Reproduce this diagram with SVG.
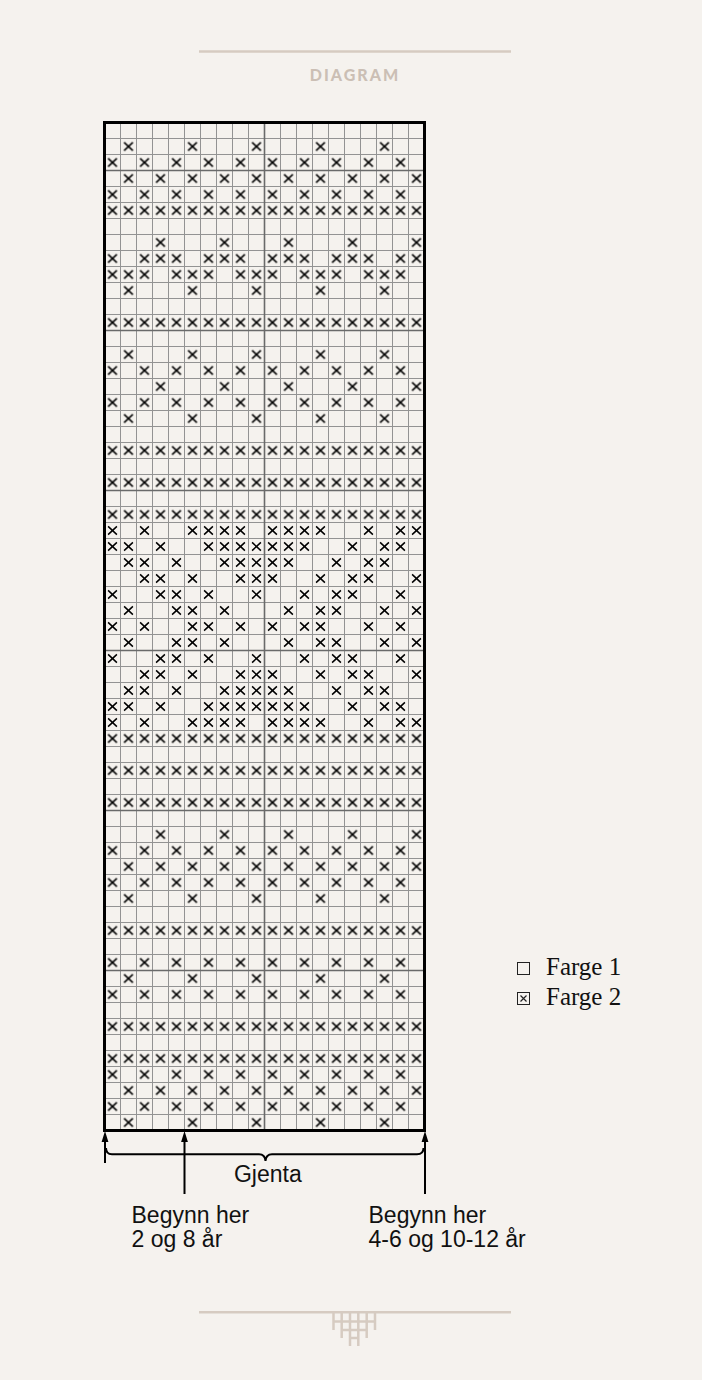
<svg xmlns="http://www.w3.org/2000/svg" xmlns:xlink="http://www.w3.org/1999/xlink" width="702" height="1380" viewBox="0 0 702 1380">
<style>
.grid{fill:none;stroke:#939393;stroke-width:1}
.sep{fill:none;stroke:#6a6a6a;stroke-width:1.6}
.border{fill:none;stroke:#000;stroke-width:3}
.xm{fill:none;stroke:#000;stroke-width:1.5}
.deco{fill:none;stroke:#d6cbc1;stroke-width:2.5}
.lbl{font-family:"Liberation Sans",Arial,sans-serif;font-size:23px;fill:#111}
.leg{font-family:"Liberation Serif","Times New Roman",serif;font-size:25px;fill:#111}
.arr{fill:none;stroke:#000;stroke-width:2}
.head{fill:#000}
</style>
<defs>
<path id="x" class="xm" d="M-4.4,-4.1L4.4,4.1M4.4,-4.1L-4.4,4.1"/>
<pattern id="pAll" patternUnits="userSpaceOnUse" x="104.5" y="122.5" width="16" height="16"><use href="#x" x="8" y="8"/></pattern>
<pattern id="pEven" patternUnits="userSpaceOnUse" x="104.5" y="122.5" width="32" height="16"><use href="#x" x="8" y="8"/></pattern>
<pattern id="pOdd" patternUnits="userSpaceOnUse" x="104.5" y="122.5" width="32" height="16"><use href="#x" x="24" y="8"/></pattern>
<pattern id="p1" patternUnits="userSpaceOnUse" x="104.5" y="122.5" width="64" height="16"><use href="#x" x="24" y="8"/></pattern>
<pattern id="p3" patternUnits="userSpaceOnUse" x="104.5" y="122.5" width="64" height="16"><use href="#x" x="56" y="8"/></pattern>
<pattern id="pN1" patternUnits="userSpaceOnUse" x="104.5" y="122.5" width="64" height="16"><use href="#x" x="8" y="8"/><use href="#x" x="40" y="8"/><use href="#x" x="56" y="8"/></pattern>
<pattern id="pN3" patternUnits="userSpaceOnUse" x="104.5" y="122.5" width="64" height="16"><use href="#x" x="8" y="8"/><use href="#x" x="24" y="8"/><use href="#x" x="40" y="8"/></pattern>
<g id="rA"><use href="#x" x="112.5"/><use href="#x" x="144.5"/><use href="#x" x="192.5"/><use href="#x" x="208.5"/><use href="#x" x="224.5"/><use href="#x" x="240.5"/><use href="#x" x="272.5"/><use href="#x" x="288.5"/><use href="#x" x="304.5"/><use href="#x" x="320.5"/><use href="#x" x="368.5"/><use href="#x" x="400.5"/><use href="#x" x="416.5"/></g>
<g id="rB"><use href="#x" x="112.5"/><use href="#x" x="128.5"/><use href="#x" x="160.5"/><use href="#x" x="208.5"/><use href="#x" x="224.5"/><use href="#x" x="240.5"/><use href="#x" x="256.5"/><use href="#x" x="272.5"/><use href="#x" x="288.5"/><use href="#x" x="304.5"/><use href="#x" x="352.5"/><use href="#x" x="384.5"/><use href="#x" x="400.5"/></g>
<g id="rC"><use href="#x" x="128.5"/><use href="#x" x="144.5"/><use href="#x" x="176.5"/><use href="#x" x="224.5"/><use href="#x" x="240.5"/><use href="#x" x="256.5"/><use href="#x" x="272.5"/><use href="#x" x="288.5"/><use href="#x" x="336.5"/><use href="#x" x="368.5"/><use href="#x" x="384.5"/></g>
<g id="rD"><use href="#x" x="144.5"/><use href="#x" x="160.5"/><use href="#x" x="192.5"/><use href="#x" x="240.5"/><use href="#x" x="256.5"/><use href="#x" x="272.5"/><use href="#x" x="320.5"/><use href="#x" x="352.5"/><use href="#x" x="368.5"/><use href="#x" x="416.5"/></g>
<g id="rE"><use href="#x" x="112.5"/><use href="#x" x="160.5"/><use href="#x" x="176.5"/><use href="#x" x="208.5"/><use href="#x" x="256.5"/><use href="#x" x="304.5"/><use href="#x" x="336.5"/><use href="#x" x="352.5"/><use href="#x" x="400.5"/></g>
<g id="rF"><use href="#x" x="128.5"/><use href="#x" x="176.5"/><use href="#x" x="192.5"/><use href="#x" x="224.5"/><use href="#x" x="288.5"/><use href="#x" x="320.5"/><use href="#x" x="336.5"/><use href="#x" x="384.5"/><use href="#x" x="416.5"/></g>
<g id="rG"><use href="#x" x="112.5"/><use href="#x" x="144.5"/><use href="#x" x="192.5"/><use href="#x" x="208.5"/><use href="#x" x="240.5"/><use href="#x" x="272.5"/><use href="#x" x="304.5"/><use href="#x" x="320.5"/><use href="#x" x="368.5"/><use href="#x" x="400.5"/></g>
</defs>
<rect width="702" height="1380" fill="#f5f2ee"/>

<g id="header">
<line class="deco" x1="199" y1="51.5" x2="511" y2="51.5"/>
<text x="355" y="81" text-anchor="middle" font-family="Lato,'Open Sans',sans-serif" font-weight="900" font-size="16" letter-spacing="2" fill="#cbbfb5">DIAGRAM</text>
</g>

<g id="chart">
<path class="grid" d="M120.5,122.5V1130.5M136.5,122.5V1130.5M152.5,122.5V1130.5M168.5,122.5V1130.5M184.5,122.5V1130.5M200.5,122.5V1130.5M216.5,122.5V1130.5M232.5,122.5V1130.5M248.5,122.5V1130.5M280.5,122.5V1130.5M296.5,122.5V1130.5M312.5,122.5V1130.5M328.5,122.5V1130.5M344.5,122.5V1130.5M360.5,122.5V1130.5M376.5,122.5V1130.5M392.5,122.5V1130.5M408.5,122.5V1130.5"/>
<path class="grid" d="M104.5,138.5h320M104.5,154.5h320M104.5,186.5h320M104.5,202.5h320M104.5,218.5h320M104.5,234.5h320M104.5,250.5h320M104.5,266.5h320M104.5,282.5h320M104.5,298.5h320M104.5,314.5h320M104.5,346.5h320M104.5,362.5h320M104.5,378.5h320M104.5,394.5h320M104.5,410.5h320M104.5,426.5h320M104.5,442.5h320M104.5,458.5h320M104.5,474.5h320M104.5,506.5h320M104.5,522.5h320M104.5,538.5h320M104.5,554.5h320M104.5,570.5h320M104.5,586.5h320M104.5,602.5h320M104.5,618.5h320M104.5,634.5h320M104.5,666.5h320M104.5,682.5h320M104.5,698.5h320M104.5,714.5h320M104.5,730.5h320M104.5,746.5h320M104.5,762.5h320M104.5,778.5h320M104.5,794.5h320M104.5,826.5h320M104.5,842.5h320M104.5,858.5h320M104.5,874.5h320M104.5,890.5h320M104.5,906.5h320M104.5,922.5h320M104.5,938.5h320M104.5,954.5h320M104.5,986.5h320M104.5,1002.5h320M104.5,1018.5h320M104.5,1034.5h320M104.5,1050.5h320M104.5,1066.5h320M104.5,1082.5h320M104.5,1098.5h320M104.5,1114.5h320"/>
<path class="sep" d="M264.5,122.5V1130.5M104.5,170.5h320M104.5,330.5h320M104.5,490.5h320M104.5,650.5h320M104.5,810.5h320M104.5,970.5h320"/>

<g id="stitches">
<rect x="104.5" y="138.5" width="320" height="16" fill="url(#p1)"/>
<rect x="104.5" y="154.5" width="320" height="16" fill="url(#pEven)"/>
<rect x="104.5" y="170.5" width="320" height="16" fill="url(#pOdd)"/>
<rect x="104.5" y="186.5" width="320" height="16" fill="url(#pEven)"/>
<rect x="104.5" y="202.5" width="320" height="16" fill="url(#pAll)"/>
<rect x="104.5" y="234.5" width="320" height="16" fill="url(#p3)"/>
<rect x="104.5" y="250.5" width="320" height="16" fill="url(#pN1)"/>
<rect x="104.5" y="266.5" width="320" height="16" fill="url(#pN3)"/>
<rect x="104.5" y="282.5" width="320" height="16" fill="url(#p1)"/>
<rect x="104.5" y="314.5" width="320" height="16" fill="url(#pAll)"/>
<rect x="104.5" y="346.5" width="320" height="16" fill="url(#p1)"/>
<rect x="104.5" y="362.5" width="320" height="16" fill="url(#pEven)"/>
<rect x="104.5" y="378.5" width="320" height="16" fill="url(#p3)"/>
<rect x="104.5" y="394.5" width="320" height="16" fill="url(#pEven)"/>
<rect x="104.5" y="410.5" width="320" height="16" fill="url(#p1)"/>
<rect x="104.5" y="442.5" width="320" height="16" fill="url(#pAll)"/>
<rect x="104.5" y="474.5" width="320" height="16" fill="url(#pAll)"/>
<rect x="104.5" y="506.5" width="320" height="16" fill="url(#pAll)"/>
<use href="#rA" y="530.5"/>
<use href="#rB" y="546.5"/>
<use href="#rC" y="562.5"/>
<use href="#rD" y="578.5"/>
<use href="#rE" y="594.5"/>
<use href="#rF" y="610.5"/>
<use href="#rG" y="626.5"/>
<use href="#rF" y="642.5"/>
<use href="#rE" y="658.5"/>
<use href="#rD" y="674.5"/>
<use href="#rC" y="690.5"/>
<use href="#rB" y="706.5"/>
<use href="#rA" y="722.5"/>
<rect x="104.5" y="730.5" width="320" height="16" fill="url(#pAll)"/>
<rect x="104.5" y="762.5" width="320" height="16" fill="url(#pAll)"/>
<rect x="104.5" y="794.5" width="320" height="16" fill="url(#pAll)"/>
<rect x="104.5" y="826.5" width="320" height="16" fill="url(#p3)"/>
<rect x="104.5" y="842.5" width="320" height="16" fill="url(#pEven)"/>
<rect x="104.5" y="858.5" width="320" height="16" fill="url(#pOdd)"/>
<rect x="104.5" y="874.5" width="320" height="16" fill="url(#pEven)"/>
<rect x="104.5" y="890.5" width="320" height="16" fill="url(#p1)"/>
<rect x="104.5" y="922.5" width="320" height="16" fill="url(#pAll)"/>
<rect x="104.5" y="954.5" width="320" height="16" fill="url(#pEven)"/>
<rect x="104.5" y="970.5" width="320" height="16" fill="url(#p1)"/>
<rect x="104.5" y="986.5" width="320" height="16" fill="url(#pEven)"/>
<rect x="104.5" y="1018.5" width="320" height="16" fill="url(#pAll)"/>
<rect x="104.5" y="1050.5" width="320" height="16" fill="url(#pAll)"/>
<rect x="104.5" y="1066.5" width="320" height="16" fill="url(#pEven)"/>
<rect x="104.5" y="1082.5" width="320" height="16" fill="url(#pOdd)"/>
<rect x="104.5" y="1098.5" width="320" height="16" fill="url(#pEven)"/>
<rect x="104.5" y="1114.5" width="320" height="16" fill="url(#p1)"/>
</g>
<rect class="border" x="104.5" y="122.5" width="320" height="1008"/>
</g>

<g id="connectors">
<path class="arr" d="M105,1138V1163M184.5,1138V1194M425,1138V1194"/>
<path class="head" d="M105,1131l-3.4,11h6.8zM184.5,1131l-3.4,11h6.8zM425,1131l-3.4,11h6.8z"/>
<path class="arr" d="M106,1148Q106,1154.3 112,1154.3H259Q265,1154.3 265.5,1161Q266,1154.3 272,1154.3H417Q423.5,1154.3 423.5,1148"/>
</g>

<g id="labels">
<text class="lbl" x="267.8" y="1182" text-anchor="middle">Gjenta</text>
<text class="lbl" x="131.5" y="1223">Begynn her</text>
<text class="lbl" x="131.5" y="1247">2 og 8 år</text>
<text class="lbl" x="368.5" y="1223">Begynn her</text>
<text class="lbl" x="368.5" y="1247">4-6 og 10-12 år</text>
</g>

<g id="legend">
<rect x="517.5" y="962.5" width="12" height="12" fill="none" stroke="#222" stroke-width="1"/>
<text class="leg" x="546" y="975">Farge 1</text>
<rect x="517.5" y="992.5" width="12" height="12" fill="none" stroke="#222" stroke-width="1"/>
<path d="M520.5,995.5l6,6m0,-6l-6,6" stroke="#222" stroke-width="1.2" fill="none"/>
<text class="leg" x="546" y="1005">Farge 2</text>
</g>

<g id="footer">
<line class="deco" x1="199" y1="1312.3" x2="511" y2="1312.3"/>
<path class="deco" stroke-width="2" d="M333.5,1313V1330M341.7,1313V1338M350,1313V1346M358.3,1313V1346M366.7,1313V1338M375,1313V1330M333.5,1321.5H375M341.7,1330H366.7M350,1338H358.3"/>
</g>
</svg>
